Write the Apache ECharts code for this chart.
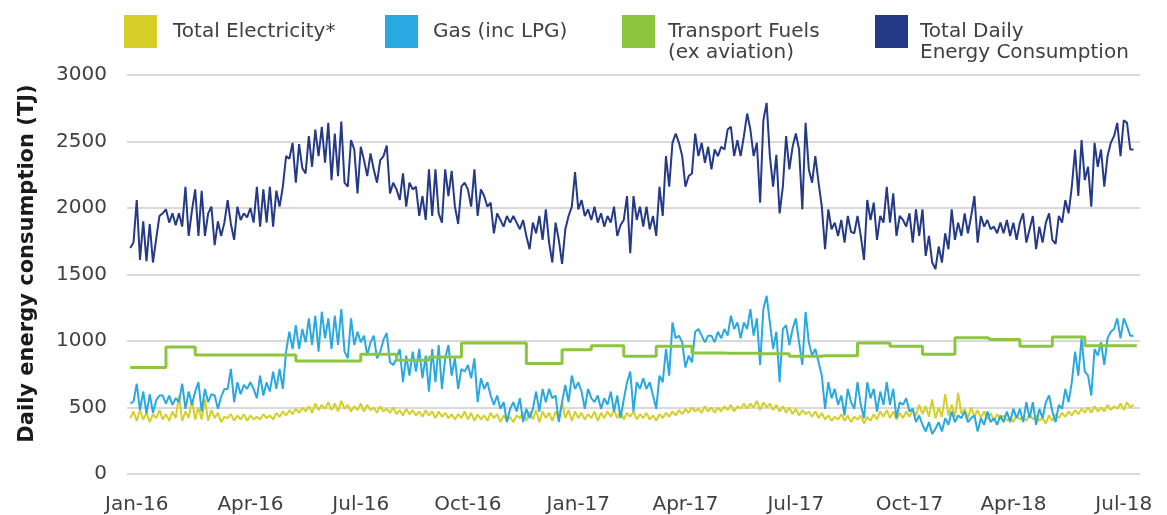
<!DOCTYPE html>
<html lang="en">
<head>
    <meta charset="UTF-8">
    <title>Daily energy consumption</title>
    <style>
        * { padding: 0; margin: 0; }
        body, html { width: 100%; height: 100%; background: #fff; }
        #main { width: 1167px; height: 515px; }
    </style>
</head>
<body>
    <div id="main"></div>
    <script src="https://cdn.jsdelivr.net/npm/echarts@6/dist/echarts.min.js"></script>
    <script>
        // readings every 3 days from 1 Jan 2016
        var totalDaily = [
            1700, 1740, 2060, 1610, 1900, 1600, 1880, 1590, 1770, 1940,
            1960, 1990, 1890, 1960, 1870, 1960, 1860, 2160, 1790, 1980,
            2140, 1790, 2130, 1790, 1960, 2010, 1720, 1900, 1790, 1890,
            2060, 1880, 1760, 2010, 1910, 1960, 1930, 2000, 1890, 2160,
            1860, 2140, 1890, 2160, 1860, 2130, 2010, 2160, 2390, 2370,
            2490, 2190, 2480, 2300, 2260, 2540, 2310, 2590, 2390, 2610,
            2340, 2640, 2210, 2560, 2240, 2650, 2190, 2160, 2510, 2440,
            2110, 2460, 2360, 2240, 2410, 2290, 2190, 2360, 2390, 2470,
            2110, 2190, 2140, 2060, 2260, 2010, 2190, 2140, 2160, 1940,
            2090, 1910, 2290, 1940, 2290, 1960, 1890, 2290, 2090, 2280,
            2010, 1880, 2160, 2190, 2140, 2010, 2290, 1940, 2140, 2090,
            2010, 2040, 1810, 1960, 1910, 1860, 1940, 1890, 1940, 1890,
            1840, 1910, 1790, 1690, 1890, 1810, 1940, 1760, 1990, 1740,
            1590, 1890, 1760, 1580, 1840, 1940, 2010, 2270, 1990, 2060,
            1940, 1990, 1910, 2010, 1890, 1960, 1860, 1940, 1890, 2010,
            1790, 1870, 1910, 2090, 1660, 2090, 1910, 2010, 1860, 2010,
            1840, 1940, 1790, 2160, 1940, 2390, 2160, 2490, 2560, 2490,
            2390, 2160, 2240, 2260, 2560, 2390, 2490, 2340, 2460, 2290,
            2440, 2390, 2460, 2440, 2590, 2610, 2390, 2510, 2390, 2540,
            2710, 2590, 2390, 2490, 2040, 2660, 2790, 2390, 2160, 2400,
            1960, 2160, 2540, 2290, 2460, 2560, 2440, 1990, 2640, 2290,
            2190, 2390, 2190, 2010, 1690, 1990, 1840, 1890, 1790, 1910,
            1740, 1940, 1820, 1810, 1940, 1790, 1610, 2060, 1910, 2040,
            1760, 1940, 1890, 2160, 1890, 2110, 1790, 1940, 1910, 1860,
            1960, 1740, 1990, 1790, 1990, 1640, 1790, 1590, 1540, 1710,
            1590, 1810, 1690, 1990, 1760, 1890, 1790, 1960, 1810, 1940,
            2090, 1740, 1940, 1860, 1910, 1840, 1860, 1810, 1890, 1810,
            1910, 1790, 1890, 1760, 1890, 1960, 1740, 1840, 1940, 1690,
            1860, 1740, 1890, 1960, 1760, 1730, 1940, 1890, 2060, 1960,
            2160, 2440, 2090, 2510, 2210, 2310, 2010, 2490, 2310, 2440,
            2160, 2390, 2490, 2540, 2640, 2390, 2660, 2640, 2440, 2440
        ];

        var gas = [
            530, 545, 680, 480, 620, 455, 600, 460, 555, 590,
            590, 530, 590, 520, 570, 540, 680, 490, 620, 520,
            620, 690, 470, 640, 540, 600, 590, 490, 580, 640,
            640, 790, 540, 690, 600, 670, 640, 690, 640, 570,
            740, 590, 690, 620, 770, 640, 790, 640, 920, 1070,
            940, 1120, 940, 1090, 990, 1170, 970, 1190, 920, 1220,
            1020, 1170, 940, 1190, 970, 1240, 920, 870, 1170, 970,
            1070, 990, 1040, 890, 990, 1040, 870, 920, 1010, 1060,
            840, 820, 870, 940, 690, 890, 740, 920, 770, 940,
            720, 890, 620, 940, 690, 970, 640, 870, 970, 740,
            870, 640, 790, 770, 820, 720, 870, 540, 720, 640,
            690, 590, 520, 590, 490, 540, 390, 490, 540, 470,
            570, 390, 490, 420, 490, 620, 470, 640, 540, 640,
            570, 590, 390, 540, 670, 540, 740, 640, 690, 620,
            490, 640, 570, 540, 590, 490, 570, 520, 620, 470,
            590, 420, 560, 690, 770, 470, 690, 640, 720, 640,
            690, 590, 490, 740, 690, 940, 740, 1140, 1020, 1040,
            990, 800, 890, 840, 1070, 1090, 1040, 990, 1040, 1040,
            990, 1070, 1020, 1090, 1040, 1190, 1090, 1140, 1020, 1140,
            1090, 1240, 1040, 1170, 820, 1240, 1340, 1140, 940, 1070,
            690, 1090, 1120, 970, 1090, 1170, 990, 820, 1220, 990,
            890, 940, 840, 740, 490, 690, 570, 640, 520, 590,
            440, 640, 540, 490, 690, 520, 420, 690, 570, 640,
            470, 620, 520, 690, 520, 640, 420, 540, 520, 570,
            470, 490, 390, 440, 370, 320, 390, 300, 340, 390,
            320, 420, 370, 470, 390, 440, 420, 470, 390, 420,
            440, 320, 420, 370, 470, 390, 420, 370, 440, 390,
            470, 390, 490, 420, 490, 390, 540, 420, 540, 370,
            490, 420, 540, 590, 470, 390, 520, 490, 640, 540,
            690, 920, 740, 1020, 770, 740, 590, 940, 890, 990,
            820, 1020, 1070, 1090, 1170, 1020, 1170, 1110, 1040, 1040
        ];

        var electricity = [
            420, 470, 400, 480, 410, 460, 390, 450, 420, 480,
            410, 450, 400, 470, 420, 590, 400, 470, 420, 560,
            410, 500, 410, 560, 400, 480, 420, 460, 390, 430,
            420, 450, 400, 440, 410, 450, 400, 440, 410, 430,
            410, 450, 420, 440, 410, 460, 430, 470, 440, 480,
            450, 490, 460, 500, 470, 510, 460, 530, 480, 520,
            490, 540, 480, 530, 470, 550, 490, 520, 470, 510,
            480, 530, 470, 520, 480, 500, 460, 510, 470, 490,
            460, 500, 450, 480, 440, 490, 450, 480, 440, 470,
            430, 480, 440, 470, 420, 470, 430, 460, 420, 450,
            410, 450, 420, 470, 410, 460, 400, 450, 410, 440,
            400, 460, 420, 450, 390, 440, 400, 430, 390, 440,
            420, 460, 400, 470, 410, 480, 390, 470, 420, 460,
            400, 470, 410, 540, 420, 480, 400, 470, 420, 460,
            410, 450, 420, 470, 400, 460, 420, 470, 430, 480,
            420, 470, 410, 460, 430, 470, 410, 450, 420, 460,
            410, 440, 400, 450, 420, 460, 430, 470, 440, 480,
            450, 490, 460, 500, 470, 490, 460, 510, 470, 500,
            460, 500, 470, 510, 480, 520, 470, 510, 490, 530,
            490, 530, 500, 550, 480, 540, 500, 530, 480, 520,
            470, 510, 460, 500, 450, 490, 440, 480, 450, 470,
            430, 470, 420, 460, 410, 440, 400, 430, 410, 450,
            400, 440, 390, 430, 410, 440, 380, 430, 400, 450,
            410, 470, 430, 480, 420, 470, 410, 460, 420, 470,
            430, 480, 440, 520, 450, 510, 430, 560, 420, 500,
            430, 600, 440, 520, 430, 610, 450, 490, 420, 500,
            430, 480, 420, 470, 410, 460, 400, 450, 410, 440,
            400, 430, 390, 440, 410, 430, 400, 450, 410, 440,
            400, 420, 380, 440, 400, 450, 420, 460, 430, 470,
            440, 480, 450, 490, 460, 500, 460, 510, 470, 500,
            470, 520, 480, 510, 490, 530, 480, 540, 500, 520
        ];

        // monthly transport fuels, Jan-16 .. Jul-18
        var transportMonthly = [
            800, 955, 895, 895, 895, 850, 850, 900, 855, 880, 985, 985,
            830, 935, 965, 885, 960, 910, 908, 905, 885, 890, 985, 960,
            900, 1025, 1012, 960, 1030, 965, 965
        ];

        var tickLabels = ['Jan-16', 'Apr-16', 'Jul-16', 'Oct-16', 'Jan-17', 'Apr-17', 'Jul-17', 'Oct-17', 'Apr-18', 'Jul-18'];
        var tickIndex = [3, 38, 72, 105, 139, 172, 206, 241, 273, 307];

        var seriesNames = ['Total Electricity*', 'Gas (inc LPG)', 'Transport Fuels (ex aviation)', 'Total Daily Energy Consumption'];
        var colors = ['#d5cf2a', '#29a9e0', '#8cc63f', '#253a87'];

        // category axis: one padding slot before the data, two after
        var start = Date.UTC(2016, 0, 1);
        var cats = [], transport = [];
        for (var k = 0; k < totalDaily.length + 3; k++) {
            var d = new Date(start + (k - 1) * 3 * 86400000);
            cats.push(d.toISOString().slice(0, 10));
            var inData = k >= 1 && k <= totalDaily.length;
            var m = (d.getUTCFullYear() - 2016) * 12 + d.getUTCMonth();
            transport.push(inData ? transportMonthly[m] : null);
        }
        function padded(arr) { return [null].concat(arr, [null, null]); }

        var myChart = echarts.init(document.getElementById('main'));
        var fontFamily = '"DejaVu Sans", sans-serif';
        var textColor = '#404040';

        function legendAt(i, left, gap) {
            return {
                data: [seriesNames[i]],
                left: left,
                top: 15,
                padding: 0,
                itemWidth: 33,
                itemHeight: 33,
                icon: 'rect',
                selectedMode: false,
                formatter: function (name) {
                    if (name === seriesNames[2]) return 'Transport Fuels';
                    if (name === seriesNames[3]) return 'Total Daily';
                    return name;
                },
                textStyle: {
                    color: textColor,
                    fontSize: 20,
                    fontFamily: fontFamily,
                    padding: [0, 0, 5, gap]
                }
            };
        }

        function lineSeries(i, data, width, z) {
            return {
                name: seriesNames[i],
                type: 'line',
                data: data,
                showSymbol: false,
                symbol: 'none',
                z: z,
                itemStyle: { color: colors[i] },
                lineStyle: { color: colors[i], width: width }
            };
        }

        var transportSeries = lineSeries(2, transport, 3, 4);
        transportSeries.step = 'end';

        var option = {
            backgroundColor: '#fff',
            animation: false,
            legend: [
                legendAt(0, 124, 11),
                legendAt(1, 385, 10),
                legendAt(2, 622, 8),
                legendAt(3, 875, 7)
            ],
            graphic: [
                { type: 'text', left: 668, top: 43, style: { text: '(ex aviation)', fill: textColor, font: '20px ' + fontFamily } },
                { type: 'text', left: 920, top: 43, style: { text: 'Energy Consumption', fill: textColor, font: '20px ' + fontFamily } }
            ],
            grid: { left: 127, right: 27, top: 75, bottom: 39 },
            xAxis: {
                type: 'category',
                data: cats,
                boundaryGap: false,
                axisLine: { show: false },
                axisTick: { show: false },
                axisLabel: {
                    interval: function (idx) { return tickIndex.indexOf(idx) >= 0; },
                    formatter: function (v, idx) {
                        var p = tickIndex.indexOf(idx);
                        return p >= 0 ? tickLabels[p] : '';
                    },
                    color: textColor,
                    fontSize: 20,
                    fontFamily: fontFamily,
                    margin: 21
                },
                splitLine: { show: false }
            },
            yAxis: {
                type: 'value',
                min: 0,
                max: 3000,
                interval: 500,
                name: 'Daily energy consumption (TJ)',
                nameLocation: 'middle',
                nameGap: 89,
                nameTextStyle: {
                    color: '#1a1a1a',
                    fontSize: 21,
                    fontWeight: 'bold',
                    fontFamily: fontFamily,
                    padding: [0, 0, 0, 22]
                },
                axisLine: { show: false },
                axisTick: { show: false },
                axisLabel: {
                    formatter: function (v) { return String(v); },
                    color: textColor,
                    fontSize: 20,
                    fontFamily: fontFamily,
                    margin: 20
                },
                splitLine: { lineStyle: { color: '#d9d9d9', width: 2 } }
            },
            series: [
                lineSeries(0, padded(electricity), 2, 2),
                lineSeries(1, padded(gas), 2, 3),
                transportSeries,
                lineSeries(3, padded(totalDaily), 2, 5)
            ]
        };
        myChart.setOption(option);
    </script>
</body>
</html>
